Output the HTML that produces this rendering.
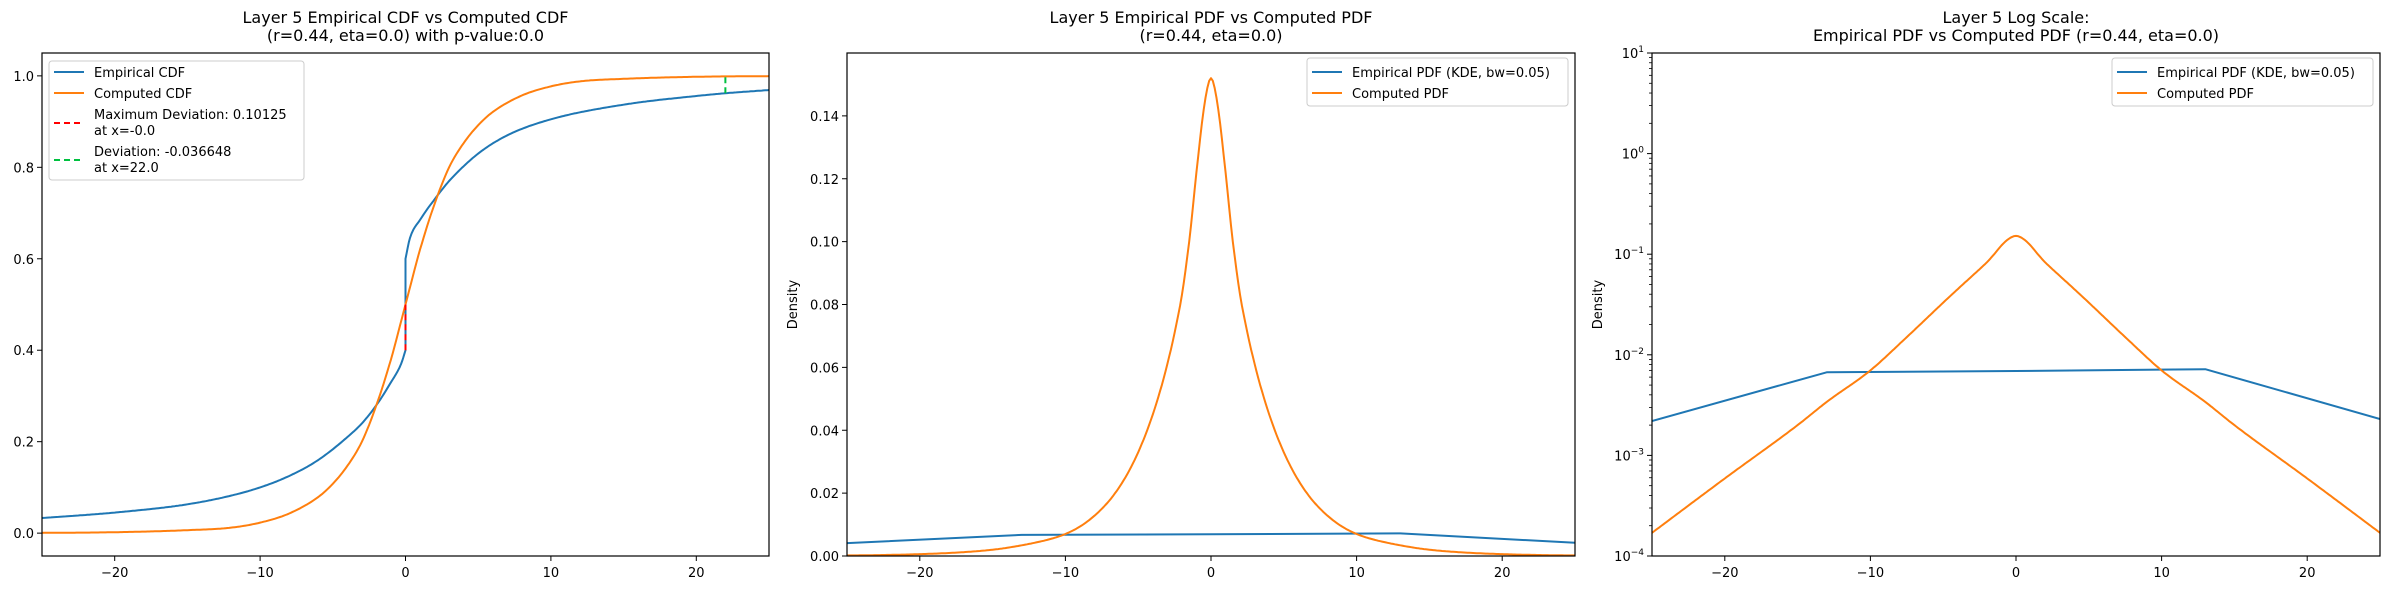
<!DOCTYPE html>
<html><head><meta charset="utf-8">
<style>
html,body{margin:0;padding:0;background:#fff;}
svg{display:block;font-family:"DejaVu Sans","Liberation Sans",sans-serif;}
</style></head>
<body>
<svg id="fig" width="2390" height="590" viewBox="0 0 2390 590" xmlns="http://www.w3.org/2000/svg"></svg>
<script>
// ---- data ----
const xTicks = [-20, -10, 0, 10, 20];
const cdfEmpX = [-25,-20,-15,-12,-10,-8,-6,-4,-3,-2,-1,-0.3,0,0,0.3,1,2,3,5,7,10,15,20,22,25];
const cdfEmpY = [0.033,0.045,0.063,0.082,0.10,0.125,0.16,0.21,0.24,0.28,0.33,0.37,0.40,0.60,0.645,0.685,0.73,0.77,0.83,0.87,0.905,0.937,0.956,0.962,0.969];
const cdfCompX = [-25,-20,-15,-12,-10,-8,-6,-5,-4,-3,-2,-1,0,1,2,3,4,5,6,8,10,12,15,20,25];
const cdfCompY = [0.0006,0.002,0.0065,0.012,0.023,0.043,0.079,0.108,0.147,0.20,0.28,0.38,0.50,0.62,0.72,0.80,0.853,0.892,0.921,0.957,0.977,0.988,0.9935,0.998,0.9994];
const maxDev = {x: 0, y0: 0.40, y1: 0.50};
const dev2 = {x: 22, y0: 0.962, y1: 0.999};
const cdfYTicks = [0.0,0.2,0.4,0.6,0.8,1.0];
const pdfX = [-25,-20,-15,-13,-10,-7.5,-5,-4,-3,-2.5,-2,-1.5,-1,-0.5,0,0.5,1,1.5,2,2.5,3,4,5,7.5,10,13,15,20,25];
const pdfY = [0.00017,0.00059,0.0020,0.0034,0.007,0.015,0.033,0.045,0.061,0.071,0.083,0.100,0.122,0.142,0.152,0.142,0.122,0.100,0.083,0.071,0.061,0.045,0.033,0.015,0.007,0.0034,0.0020,0.00059,0.00017];
const kdeLinX = [-25,-13,0,13,25];
const kdeLinY = [0.0041,0.0067,0.0069,0.0072,0.0042];
const kdeLogX = [-25,-13,0,13,25];
const kdeLogY = [0.0022,0.0067,0.0069,0.0072,0.0023];
const pdfYTicks = [0.00,0.02,0.04,0.06,0.08,0.10,0.12,0.14];
const logExps = [1,0,-1,-2,-3,-4];

const NS = "http://www.w3.org/2000/svg";
const svg = document.getElementById('fig');
function el(tag, attrs, parent){
  const e = document.createElementNS(NS, tag);
  for (const k in attrs) e.setAttribute(k, attrs[k]);
  (parent||svg).appendChild(e);
  return e;
}
const TOP=53, BOT=556;
const panels = [{l:42,r:769},{l:847,r:1575},{l:1652,r:2380}];
function xs(p){ return x => p.l + (x+25)/50*(p.r-p.l); }
const y1 = v => BOT - (v+0.05)/1.10*(BOT-TOP);
const y2 = v => BOT - v/0.16*(BOT-TOP);
const y3 = v => BOT - (Math.log10(v)+4)/5*(BOT-TOP);

// monotone cubic resampling for smooth drawing
function smooth(xa, ya, tf, inv){
  const outX=[], outY=[];
  let start=0;
  const segs=[];
  for (let i=1;i<=xa.length;i++){
    if (i===xa.length || xa[i]===xa[i-1]){ segs.push([start,i]); start=i; }
  }
  segs.forEach(([a,b])=>{
    const x=xa.slice(a,b), y=ya.slice(a,b).map(tf), n=x.length;
    if (n<2){ outX.push(x[0]); outY.push(inv(y[0])); return; }
    const d=[], m=[];
    for(let i=0;i<n-1;i++) d.push((y[i+1]-y[i])/(x[i+1]-x[i]));
    m[0]=d[0]; m[n-1]=d[n-2];
    for(let i=1;i<n-1;i++) m[i] = (d[i-1]*d[i]<=0)?0:(d[i-1]+d[i])/2;
    for(let i=0;i<n-1;i++){
      if (d[i]===0){m[i]=0;m[i+1]=0;continue;}
      const al=m[i]/d[i], be=m[i+1]/d[i], s=al*al+be*be;
      if (s>9){const t=3/Math.sqrt(s); m[i]=t*al*d[i]; m[i+1]=t*be*d[i];}
    }
    for(let i=0;i<n-1;i++){
      const h=x[i+1]-x[i], steps=Math.max(4,Math.ceil(h*8));
      for(let k=0;k<steps;k++){
        const t=k/steps, t2=t*t, t3=t2*t;
        const v=(2*t3-3*t2+1)*y[i]+(t3-2*t2+t)*h*m[i]+(-2*t3+3*t2)*y[i+1]+(t3-t2)*h*m[i+1];
        outX.push(x[i]+t*h); outY.push(inv(v));
      }
    }
    outX.push(x[n-1]); outY.push(inv(y[n-1]));
  });
  return [outX,outY];
}
const ident = v=>v;
function path(xArr, yArr, X, Y, color, g, name){
  let d = '';
  for (let i=0;i<xArr.length;i++) d += (i?'L':'M') + X(xArr[i]).toFixed(1) + ',' + Y(yArr[i]).toFixed(1);
  const p = el('path', {d:d, fill:'none', stroke:color, 'stroke-width':2, 'stroke-linejoin':'round'}, g);
  
  
  return p;
}
function text(x,y,s,attrs,g){
  const t = el('text', Object.assign({x:x,y:y,'font-size':13,fill:'#000'},attrs||{}), g);
  t.textContent = s; return t;
}
function frame(p, g){
  const r = el('rect',{x:p.l,y:TOP,width:p.r-p.l,height:BOT-TOP,fill:'none',stroke:'#000','stroke-width':1.2}, g);
  
  
}
function xAxis(p, g){
  const X = xs(p);
  xTicks.forEach(t=>{
    el('line',{x1:X(t),x2:X(t),y1:BOT,y2:BOT+5,stroke:'#000'},g);
    const lb = text(X(t), BOT+21, (t<0?'\u2212'+(-t):String(t)), {'text-anchor':'middle'}, g);
    
    
  });
}
function title(p, lines, g){
  const cx=(p.l+p.r)/2;
  lines.forEach((s,i)=>{
    const t = text(cx, 23+i*18, s, {'text-anchor':'middle','font-size':16}, g);
    
    
  });
}
function legend(x,y,w,h,entries,g){
  const lg = el('g',{},g);
  
  
  el('rect',{x:x,y:y,width:w,height:h,rx:3,fill:'#fff','fill-opacity':0.8,stroke:'#ccc'},lg);
  entries.forEach(e=>{
    const eg = el('g',{},lg);
    
    
    el('line',{x1:x+5,x2:x+35,y1:e.ly,y2:e.ly,stroke:e.c,'stroke-width':2,'stroke-dasharray':e.dash||'none'},eg);
    e.lines.forEach((s,i)=> text(x+45, e.ty+i*16, s, {}, eg));
  });
}

// ---- Panel 1: CDF ----
const g1 = el('g',{});  
const X1 = xs(panels[0]);
const cp1 = el('clipPath',{id:'c1'},g1); el('rect',{x:panels[0].l,y:TOP,width:panels[0].r-panels[0].l,height:BOT-TOP},cp1);
const d1 = el('g',{'clip-path':'url(#c1)'},g1);
let s;
s = smooth(cdfEmpX, cdfEmpY, ident, ident);
path(s[0], s[1], X1, y1, '#1f77b4', d1, 'empirical-cdf-line');
s = smooth(cdfCompX, cdfCompY, ident, ident);
path(s[0], s[1], X1, y1, '#ff7f0e', d1, 'computed-cdf-line');
const md = el('line',{x1:X1(maxDev.x),x2:X1(maxDev.x),y1:y1(maxDev.y0),y2:y1(maxDev.y1),stroke:'#ff0000','stroke-width':2,'stroke-dasharray':'6,4'},d1);


const dv = el('line',{x1:X1(dev2.x),x2:X1(dev2.x),y1:y1(dev2.y0),y2:y1(dev2.y1),stroke:'#00c040','stroke-width':2,'stroke-dasharray':'6,4'},d1);


frame(panels[0], g1); xAxis(panels[0], g1);
cdfYTicks.forEach(t=>{
  el('line',{x1:panels[0].l-5,x2:panels[0].l,y1:y1(t),y2:y1(t),stroke:'#000'},g1);
  const lb=text(panels[0].l-8, y1(t)+5, t.toFixed(1), {'text-anchor':'end'}, g1);
  
  
});
title(panels[0], ['Layer 5 Empirical CDF vs Computed CDF','(r=0.44, eta=0.0) with p-value:0.0'], g1);
legend(49,61,255,119,[
  {c:'#1f77b4',ly:72,ty:77,lines:['Empirical CDF']},
  {c:'#ff7f0e',ly:93,ty:98,lines:['Computed CDF']},
  {c:'#ff0000',dash:'6,4',ly:123,ty:119,lines:['Maximum Deviation: 0.10125','at x=-0.0']},
  {c:'#00c040',dash:'6,4',ly:160,ty:156,lines:['Deviation: -0.036648','at x=22.0']}
], g1);

const pdfS = smooth(pdfX, pdfY, Math.log, Math.exp);

// ---- Panel 2: PDF ----
const g2 = el('g',{});  
const X2 = xs(panels[1]);
const cp2 = el('clipPath',{id:'c2'},g2); el('rect',{x:panels[1].l,y:TOP,width:panels[1].r-panels[1].l,height:BOT-TOP},cp2);
const d2 = el('g',{'clip-path':'url(#c2)'},g2);
path(kdeLinX, kdeLinY, X2, y2, '#1f77b4', d2, 'empirical-pdf-line');
path(pdfS[0], pdfS[1], X2, y2, '#ff7f0e', d2, 'computed-pdf-line');
frame(panels[1], g2); xAxis(panels[1], g2);
pdfYTicks.forEach(t=>{
  el('line',{x1:panels[1].l-5,x2:panels[1].l,y1:y2(t),y2:y2(t),stroke:'#000'},g2);
  const lb=text(panels[1].l-8, y2(t)+5, t.toFixed(2), {'text-anchor':'end'}, g2);
  
  
});
const yl2 = text(0,0,'Density',{transform:'translate(797,'+((TOP+BOT)/2)+') rotate(-90)','text-anchor':'middle'},g2);


title(panels[1], ['Layer 5 Empirical PDF vs Computed PDF','(r=0.44, eta=0.0)'], g2);
legend(1307,58,261,48,[
  {c:'#1f77b4',ly:72,ty:77,lines:['Empirical PDF (KDE, bw=0.05)']},
  {c:'#ff7f0e',ly:93,ty:98,lines:['Computed PDF']}
], g2);

// ---- Panel 3: log PDF ----
const g3 = el('g',{});  
const X3 = xs(panels[2]);
const cp3 = el('clipPath',{id:'c3'},g3); el('rect',{x:panels[2].l,y:TOP,width:panels[2].r-panels[2].l,height:BOT-TOP},cp3);
const d3 = el('g',{'clip-path':'url(#c3)'},g3);
path(kdeLogX, kdeLogY, X3, y3, '#1f77b4', d3, 'empirical-pdf-log-line');
path(pdfS[0], pdfS[1], X3, y3, '#ff7f0e', d3, 'computed-pdf-log-line');
frame(panels[2], g3); xAxis(panels[2], g3);
logExps.forEach(e=>{
  const yy = y3(Math.pow(10,e));
  el('line',{x1:panels[2].l-5,x2:panels[2].l,y1:yy,y2:yy,stroke:'#000'},g3);
  if (e>-4) for (let m=2;m<10;m++){
    const ym = y3(m*Math.pow(10,e-1));
    el('line',{x1:panels[2].l-3,x2:panels[2].l,y1:ym,y2:ym,stroke:'#000','stroke-width':0.8},g3);
  }
  const t = el('text',{x:panels[2].l-8,y:yy+5,'font-size':13,'text-anchor':'end'},g3);
  
  
  const a = el('tspan',{},t); a.textContent='10';
  const b = el('tspan',{dy:-6,'font-size':9}, t); b.textContent = (e<0?'\u2212'+(-e):String(e));
});
const yl3 = text(0,0,'Density',{transform:'translate(1602,'+((TOP+BOT)/2)+') rotate(-90)','text-anchor':'middle'},g3);


title(panels[2], ['Layer 5 Log Scale:','Empirical PDF vs Computed PDF (r=0.44, eta=0.0)'], g3);
legend(2112,58,261,48,[
  {c:'#1f77b4',ly:72,ty:77,lines:['Empirical PDF (KDE, bw=0.05)']},
  {c:'#ff7f0e',ly:93,ty:98,lines:['Computed PDF']}
], g3);
</script>
</body></html>
